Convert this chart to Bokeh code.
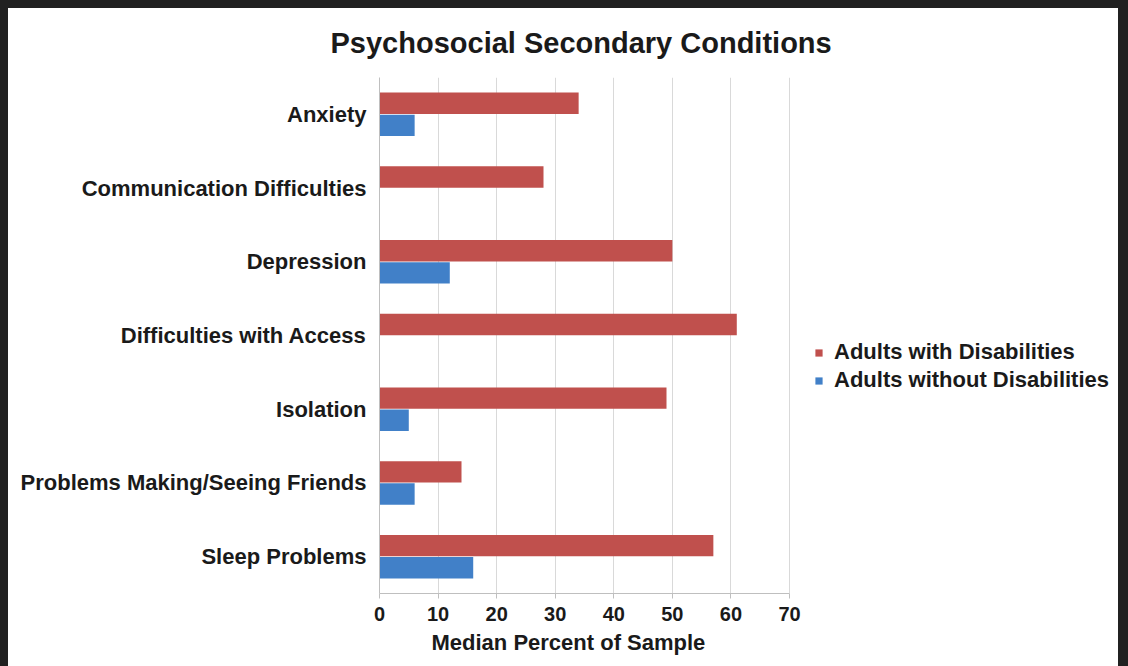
from bokeh.plotting import figure
from bokeh.models import FactorRange, Range1d, Legend, LegendItem, ColumnDataSource, FixedTicker, Title
from bokeh.layouts import column
from bokeh.transform import dodge
from bokeh.embed import file_html
from bokeh.resources import INLINE

categories = ["Anxiety", "Communication Difficulties", "Depression",
              "Difficulties with Access", "Isolation",
              "Problems Making/Seeing Friends", "Sleep Problems"]
with_disabilities = [34, 28, 50, 61, 49, 14, 57]
without_disabilities = [6, 0, 12, 0, 5, 6, 16]
x_ticks = [0, 10, 20, 30, 40, 50, 60, 70]

RED = "#c0504d"
BLUE = "#4180c8"
FONT = "Liberation Sans"
TXT = "#1a1a1a"

# the value axis covers 0-70 on the left 410 px of a 739 px wide frame,
# leaving room for the legend on the right
FRAME_W = 739
AXIS_W = 410
x_end = 70 * FRAME_W / AXIS_W

src = ColumnDataSource(dict(cat=categories, w=with_disabilities, wo=without_disabilities))

p = figure(width=1110, height=658,
           y_range=FactorRange(factors=categories[::-1]),
           x_range=Range1d(0, x_end),
           output_backend="svg", toolbar_location=None,
           min_border_left=371, min_border_right=0,
           min_border_top=69, min_border_bottom=73,
           styles={"background-color": "white"})

r1 = p.hbar(y=dodge("cat", 0.15, range=p.y_range), right="w", left=0, height=0.29,
            source=src, fill_color=RED, line_color=None)
r2 = p.hbar(y=dodge("cat", -0.15, range=p.y_range), right="wo", left=0, height=0.29,
            source=src, fill_color=BLUE, line_color=None)

p.title.text = "Psychosocial Secondary Conditions"
p.title.align = "left"
p.title.offset = -49
p.title.text_font = FONT
p.title.text_font_size = "29px"
p.title.text_font_style = "bold"
p.title.text_color = TXT
p.title.standoff = 34
p.title.vertical_align = "top"

p.outline_line_color = None
p.outline_line_alpha = 0
p.ygrid.grid_line_color = None
p.xgrid.grid_line_color = "#d9d9d9"
p.xaxis.ticker = FixedTicker(ticks=x_ticks)
p.xaxis.bounds = (0, 70)

for ax in (p.xaxis, p.yaxis):
    ax.axis_line_color = "#bfbfbf"
    ax.major_label_text_font = FONT
    ax.major_label_text_font_style = "bold"
    ax.major_label_text_color = TXT
    ax.minor_tick_line_color = None

p.xaxis.major_label_text_font_size = "20px"
p.xaxis.major_tick_line_color = "#bfbfbf"
p.xaxis.major_tick_out = 5
p.xaxis.major_tick_in = 0
p.xaxis.major_label_standoff = 8

xlabel = Title(text="Median Percent of Sample", align="left", offset=52,
               text_font=FONT, text_font_size="22px", text_font_style="bold",
               text_color=TXT, standoff=12, vertical_align="top")
p.add_layout(xlabel, "below")

p.yaxis.major_label_text_font_size = "22px"
p.yaxis.major_tick_line_color = None
p.yaxis.major_tick_out = 0
p.yaxis.major_tick_in = 0
p.yaxis.major_label_standoff = 13

legend = Legend(items=[LegendItem(label="Adults with Disabilities", renderers=[r1]),
                       LegendItem(label="Adults without Disabilities", renderers=[r2])],
                location=(435, 200), padding=0, margin=0, spacing=2,
                glyph_width=9, glyph_height=9, label_standoff=11,
                label_text_font=FONT, label_text_font_size="22px",
                label_text_font_style="bold", label_text_color=TXT,
                border_line_color=None, background_fill_alpha=0)
p.add_layout(legend, "center")

page = column(p, styles={"background-color": "#212121", "padding": "8px 10px 0px 8px"})

open("out.html", "w").write(file_html(page, INLINE))
